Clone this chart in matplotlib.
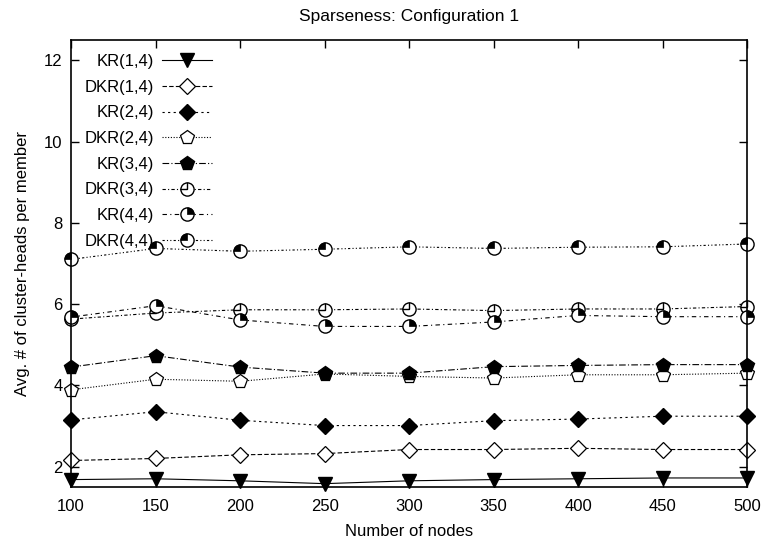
import matplotlib
matplotlib.use("Agg")
import matplotlib.pyplot as plt
from matplotlib.path import Path
import numpy as np

plt.rcParams['font.family'] = ['Liberation Sans', 'DejaVu Sans']

# data
nodes = [100, 150, 200, 250, 300, 350, 400, 450, 500]
kr14 = [1.68, 1.70, 1.65, 1.58, 1.65, 1.68, 1.70, 1.72, 1.72]
dkr14 = [2.15, 2.20, 2.29, 2.32, 2.42, 2.42, 2.45, 2.42, 2.42]
kr24 = [3.15, 3.35, 3.14, 3.01, 3.01, 3.13, 3.17, 3.24, 3.24]
dkr24 = [3.89, 4.15, 4.10, 4.28, 4.22, 4.18, 4.26, 4.26, 4.30]
kr34 = [4.45, 4.73, 4.45, 4.30, 4.30, 4.46, 4.49, 4.51, 4.51]
dkr34 = [5.63, 5.78, 5.86, 5.86, 5.88, 5.84, 5.88, 5.88, 5.94]
kr44 = [5.68, 5.96, 5.61, 5.45, 5.45, 5.56, 5.72, 5.69, 5.69]
dkr44 = [7.10, 7.37, 7.30, 7.35, 7.41, 7.37, 7.40, 7.41, 7.48]
labels = ["KR(1,4)", "DKR(1,4)", "KR(2,4)", "DKR(2,4)",
          "KR(3,4)", "DKR(3,4)", "KR(4,4)", "DKR(4,4)"]

# custom gnuplot-like markers
clock = Path([[0, 0], [0, 1], [0, 0], [-1, 0]],
             [Path.MOVETO, Path.LINETO, Path.MOVETO, Path.LINETO])
wedge_tr = Path.wedge(0, 90)
wedge_tl = Path.wedge(90, 180)

fs = 12
fig, ax = plt.subplots(figsize=(7.64, 5.41), dpi=100)
fig.subplots_adjust(left=0.093, right=0.978, top=0.926, bottom=0.1)

lw = 0.8
ms = 9.5
handles = []

l, = ax.plot(nodes, kr14, color='black', lw=lw, ls='-', marker='v', ms=ms,
             mfc='black', mec='black', clip_on=False)
handles.append(l)
l, = ax.plot(nodes, dkr14, color='black', lw=lw, ls=(0, (4, 2)), marker='D', ms=ms - 1.5,
             mfc='white', mec='black', mew=0.9, clip_on=False)
handles.append(l)
l, = ax.plot(nodes, kr24, color='black', lw=lw, ls=(0, (2, 3)), marker='D', ms=ms - 1.5,
             mfc='black', mec='black', clip_on=False)
handles.append(l)
l, = ax.plot(nodes, dkr24, color='black', lw=lw, ls=(0, (1, 1.5)), marker='p', ms=ms + 1,
             mfc='white', mec='black', mew=0.9, clip_on=False)
handles.append(l)
l, = ax.plot(nodes, kr34, color='black', lw=lw, ls=(0, (6, 2, 1, 2)), marker='p', ms=ms + 1,
             mfc='black', mec='black', clip_on=False)
handles.append(l)

# DKR(3,4): circle with clock hands
l1, = ax.plot(nodes, dkr34, color='black', lw=lw, ls=(0, (3, 2, 1, 2)), marker='o', ms=ms,
              mfc='white', mec='black', mew=1.0, clip_on=False)
l2, = ax.plot(nodes, dkr34, ls='none', marker=clock, ms=ms, mfc='none', mec='black',
              mew=1.0, clip_on=False)
handles.append((l1, l2))

# KR(4,4): circle, top-right quarter filled
l1, = ax.plot(nodes, kr44, color='black', lw=lw, ls=(0, (4, 3, 1, 3)), marker='o', ms=ms,
              mfc='white', mec='black', mew=1.0, clip_on=False)
l2, = ax.plot(nodes, kr44, ls='none', marker=wedge_tr, ms=ms, mfc='black', mec='black',
              mew=0.5, clip_on=False)
handles.append((l1, l2))

# DKR(4,4): circle, top-left quarter filled
l1, = ax.plot(nodes, dkr44, color='black', lw=lw, ls=(0, (2, 2, 1, 2, 1, 2)), marker='o', ms=ms,
              mfc='white', mec='black', mew=1.0, clip_on=False)
l2, = ax.plot(nodes, dkr44, ls='none', marker=wedge_tl, ms=ms, mfc='black', mec='black',
              mew=0.5, clip_on=False)
handles.append((l1, l2))

ax.set_xlim(100, 500)
ax.set_ylim(1.5, 12.5)
ax.set_xticks(nodes)
ax.set_yticks([2, 4, 6, 8, 10, 12])
ax.tick_params(direction='in', length=6, width=1, top=True, right=True, labelsize=fs, pad=6)
ax.tick_params(axis='x', pad=9)
for sp in ax.spines.values():
    sp.set_linewidth(1.2)

ax.set_title("Sparseness: Configuration 1", fontsize=12.5, pad=14)
ax.set_xlabel("Number of nodes", fontsize=fs, labelpad=7)
ax.set_ylabel("Avg. # of cluster-heads per member", fontsize=fs, labelpad=10)

leg = ax.legend(handles, labels, loc='upper left', bbox_to_anchor=(0.005, 0.991),
                frameon=False, markerfirst=False, fontsize=fs, handlelength=3.0,
                handletextpad=0.5, labelspacing=0.64, borderaxespad=0.2)

# right-align the legend labels (gnuplot style)
fig.canvas.draw()
renderer = fig.canvas.get_renderer()
boxes = [t.get_window_extent(renderer) for t in leg.get_texts()]
xr = max(b.x1 for b in boxes)
inv = fig.transFigure.inverted()
for t, b in zip(leg.get_texts(), boxes):
    t.set_visible(False)
    x, y = inv.transform((xr, (b.y0 + b.y1) / 2))
    fig.text(x, y, t.get_text(), ha='right', va='center', fontsize=fs)

fig.savefig("out.png", dpi=100)
